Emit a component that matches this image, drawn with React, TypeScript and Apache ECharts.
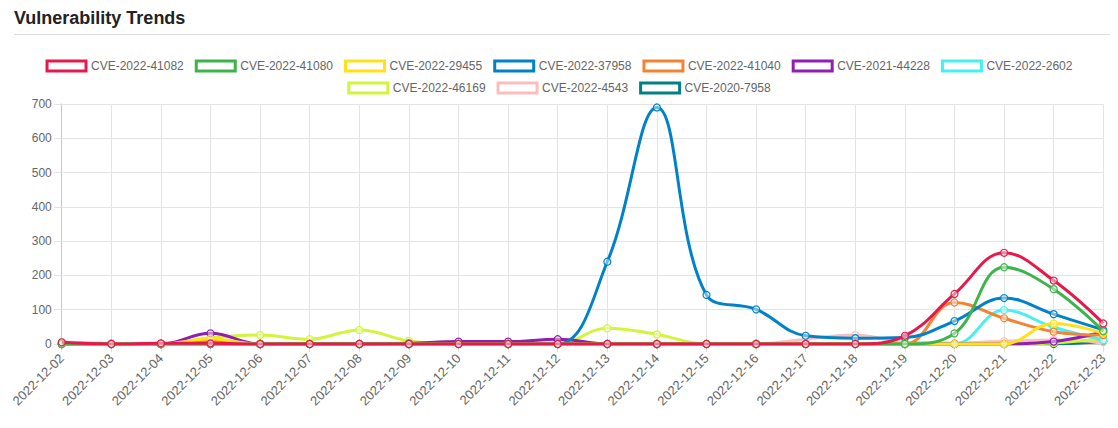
import React, { useEffect, useRef } from "react";
import * as echarts from "echarts";

const dates = [
  "2022-12-02", "2022-12-03", "2022-12-04", "2022-12-05", "2022-12-06", "2022-12-07",
  "2022-12-08", "2022-12-09", "2022-12-10", "2022-12-11", "2022-12-12", "2022-12-13",
  "2022-12-14", "2022-12-15", "2022-12-16", "2022-12-17", "2022-12-18", "2022-12-19",
  "2022-12-20", "2022-12-21", "2022-12-22", "2022-12-23",
];

const cve202241082 = [5, 0, 2, 2, 0, 0, 0, 0, 0, 0, 0, 0, 0, 0, 0, 0, 0, 24, 146, 266, 185, 60];
const cve202241080 = [0, 0, 0, 0, 0, 0, 0, 0, 0, 0, 0, 0, 0, 0, 0, 0, 0, 0, 31, 224, 160, 37];
const cve202229455 = [0, 0, 0, 15, 0, 0, 0, 0, 0, 0, 0, 0, 0, 0, 0, 0, 0, 0, 0, 0, 60, 31];
const cve202237958 = [0, 0, 0, 0, 0, 0, 0, 0, 0, 0, 0, 240, 690, 143, 101, 24, 17, 19, 67, 134, 87, 41];
const cve202241040 = [0, 0, 0, 10, 0, 0, 0, 0, 0, 0, 0, 0, 0, 0, 0, 0, 0, 0, 121, 75, 36, 26];
const cve202144228 = [0, 0, 0, 31, 0, 0, 0, 2, 7, 7, 14, 0, 0, 0, 0, 0, 0, 0, 0, 0, 7, 35];
const cve20222602 = [0, 0, 0, 0, 0, 0, 0, 0, 0, 0, 0, 0, 0, 0, 0, 0, 0, 0, 0, 99, 49, 12];
const cve202246169 = [0, 0, 0, 18, 26, 14, 41, 9, 0, 0, 0, 46, 28, 0, 0, 0, 0, 0, 0, 0, 3, 17];
const cve20224543 = [6, 2, 0, 0, 0, 0, 0, 0, 3, 3, 3, 0, 0, 0, 0, 14, 26, 5, 3, 8, 12, 5];
const cve20207958 = [0, 0, 0, 0, 0, 0, 0, 0, 0, 0, 0, 0, 0, 0, 0, 0, 0, 0, 0, 0, 0, 8];

const seriesNames = [
  "CVE-2022-41082", "CVE-2022-41080", "CVE-2022-29455", "CVE-2022-37958", "CVE-2022-41040",
  "CVE-2021-44228", "CVE-2022-2602", "CVE-2022-46169", "CVE-2022-4543", "CVE-2020-7958",
];
const seriesValues = [
  cve202241082, cve202241080, cve202229455, cve202237958, cve202241040,
  cve202144228, cve20222602, cve202246169, cve20224543, cve20207958,
];
const seriesColors = [
  "#e6194b", "#3cb44b", "#ffe119", "#0082c8", "#f58231",
  "#911eb4", "#46f0f0", "#d2f53c", "#fabebe", "#008080",
];

const FONT = "'Liberation Sans', Arial, Helvetica, sans-serif";

export default function App() {
  const ref = useRef<HTMLDivElement>(null);
  useEffect(() => {
    if (!ref.current) return;
    const chart = echarts.init(ref.current, undefined, { renderer: "svg" });
    const legendItem = (i: number) => ({
      name: seriesNames[i],
      itemStyle: { color: "#ffffff", borderColor: seriesColors[i], borderWidth: 3 },
    });
    const legendBase = {
      left: "center",
      icon: "rect",
      itemWidth: 39,
      itemHeight: 10,
      itemGap: 11,
      padding: 0,
      textStyle: { fontSize: 12, color: "#666", fontFamily: FONT, lineHeight: 14 },
      selectedMode: false,
    };
    const series = seriesNames
      .map((name, i) => ({
        name,
        type: "line",
        data: seriesValues[i],
        smooth: 0.4,
        symbol: "circle",
        symbolSize: 7,
        showSymbol: true,
        lineStyle: { color: seriesColors[i], width: 3 },
        itemStyle: { color: "rgba(255,255,255,0.45)", borderColor: seriesColors[i], borderWidth: 1.2 },
        z: 2 + (seriesNames.length - i),
      }))
      .reverse();
    chart.setOption({
      animation: false,
      textStyle: { fontFamily: FONT },
      title: {
        text: "Vulnerability Trends",
        left: 6,
        top: 1,
        padding: 0,
        textStyle: { fontSize: 18, fontWeight: "bold", color: "#222", lineHeight: 18, fontFamily: FONT },
      },
      graphic: [
        {
          type: "line",
          shape: { x1: 6, y1: 26.5, x2: 1102, y2: 26.5 },
          style: { stroke: "#dddddd", lineWidth: 1 },
          silent: true,
        },
      ],
      legend: [
        { ...legendBase, top: 51, data: [0, 1, 2, 3, 4, 5, 6].map(legendItem) },
        { ...legendBase, top: 73, data: [7, 8, 9].map(legendItem) },
      ],
      grid: { left: 53.3, right: 6, top: 96, bottom: 76, containLabel: false },
      xAxis: {
        type: "category",
        data: dates,
        boundaryGap: false,
        axisLine: { show: true, lineStyle: { color: "#c8c8c8" } },
        axisTick: { show: true, length: 8, lineStyle: { color: "#e3e3e3" } },
        splitLine: { show: true, lineStyle: { color: "#e3e3e3" } },
        axisLabel: { rotate: 45, fontSize: 13, color: "#666", margin: 12, interval: 0, fontFamily: FONT },
      },
      yAxis: {
        type: "value",
        min: 0,
        max: 700,
        interval: 100,
        axisLine: { show: true, lineStyle: { color: "#c8c8c8" } },
        axisTick: { show: true, length: 8, lineStyle: { color: "#e3e3e3" } },
        splitLine: { show: true, lineStyle: { color: "#e3e3e3" } },
        axisLabel: { fontSize: 12, color: "#666", margin: 10, fontFamily: FONT },
      },
      series,
    });
    return () => chart.dispose();
  }, []);
  return <div ref={ref} style={{ width: 1102, height: 412 }} />;
}
